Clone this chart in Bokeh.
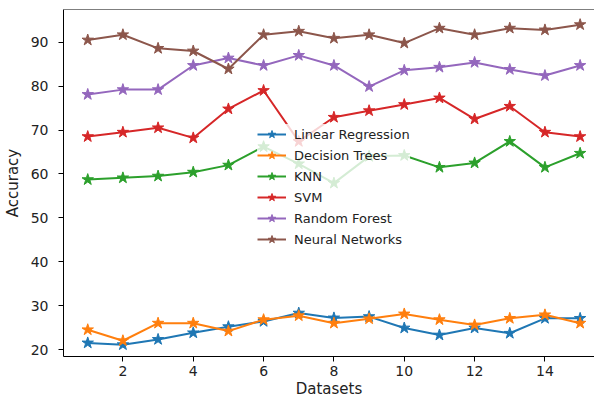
from bokeh.plotting import figure
from bokeh.models import Range1d, Span, FixedTicker
from bokeh.embed import file_html
from bokeh.resources import INLINE

datasets = list(range(1, 16))
linear_regression = [21.5, 21.1, 22.3, 23.8, 25.2, 26.4, 28.3, 27.2, 27.5, 24.9, 23.3, 24.9, 23.7, 27.1, 27.1]
decision_trees = [24.5, 22.0, 26.0, 26.0, 24.2, 26.8, 27.7, 26.0, 27.0, 28.1, 26.8, 25.6, 27.1, 27.9, 26.0]
knn = [58.7, 59.1, 59.5, 60.4, 62.0, 66.2, 62.3, 57.9, 64.0, 64.2, 61.5, 62.5, 67.4, 61.5, 64.7]
svm = [68.5, 69.5, 70.5, 68.2, 74.8, 79.0, 67.4, 72.9, 74.4, 75.8, 77.3, 72.5, 75.4, 69.5, 68.5]
random_forest = [78.1, 79.2, 79.2, 84.7, 86.4, 84.7, 87.0, 84.7, 79.9, 83.6, 84.3, 85.4, 83.8, 82.4, 84.7]
neural_networks = [90.5, 91.7, 88.6, 88.0, 83.9, 91.7, 92.5, 90.9, 91.7, 89.8, 93.2, 91.7, 93.2, 92.8, 94.0]

series_names = ["Linear Regression", "Decision Trees", "KNN", "SVM", "Random Forest", "Neural Networks"]
series_values = [linear_regression, decision_trees, knn, svm, random_forest, neural_networks]
colors = ["#1f77b4", "#ff7f0e", "#2ca02c", "#d62728", "#9467bd", "#8c564b"]
x_ticks = [2, 4, 6, 8, 10, 12, 14]
y_ticks = [20, 30, 40, 50, 60, 70, 80, 90]

FONT = "DejaVu Sans"
Y_END = 97.45

p = figure(width=594, height=400, output_backend="svg", toolbar_location=None,
           x_range=Range1d(0.311, 15.409), y_range=Range1d(18.41, Y_END),
           min_border_left=55, min_border_right=0, min_border_top=9, min_border_bottom=44)
p.outline_line_color = None
p.xgrid.visible = False
p.ygrid.visible = False
p.background_fill_color = "white"

for name, vals, c in zip(series_names, series_values, colors):
    p.line(datasets, vals, line_color=c, line_width=2, legend_label=name)
    p.scatter(datasets, vals, marker="star", size=12, fill_color=c, line_color=c, legend_label=name)

top = Span(location=Y_END, dimension="width", line_color="black", line_width=1)
p.add_layout(top)

for ax in (p.xaxis[0], p.yaxis[0]):
    ax.axis_line_color = "black"
    ax.axis_line_width = 1
    ax.major_tick_line_color = "black"
    ax.major_tick_out = 5
    ax.major_tick_in = 0
    ax.minor_tick_line_color = None
    ax.major_label_text_font = FONT
    ax.major_label_text_font_size = "14px"
    ax.major_label_text_color = "#222222"
    ax.axis_label_text_font = FONT
    ax.axis_label_text_font_size = "15px"
    ax.axis_label_text_font_style = "normal"
    ax.axis_label_text_color = "#222222"

p.xaxis[0].ticker = FixedTicker(ticks=x_ticks)
p.yaxis[0].ticker = FixedTicker(ticks=y_ticks)
p.xaxis[0].axis_label = "Datasets"
p.xaxis[0].major_label_standoff = 4
p.xaxis[0].axis_label_standoff = 1
p.yaxis[0].axis_label = "Accuracy"
p.yaxis[0].major_label_standoff = 10
p.yaxis[0].axis_label_standoff = 6

leg = p.legend[0]
leg.location = (194, 107)
leg.background_fill_color = "white"
leg.background_fill_alpha = 0.8
leg.border_line_color = None
leg.label_text_font = FONT
leg.label_text_font_size = "13px"
leg.label_text_color = "#222222"
leg.glyph_width = 29
leg.glyph_height = 20
leg.label_height = 20
leg.label_standoff = 8
leg.spacing = 1
leg.padding = 5
leg.margin = 0

open("out.html", "w").write(file_html(p, INLINE))
